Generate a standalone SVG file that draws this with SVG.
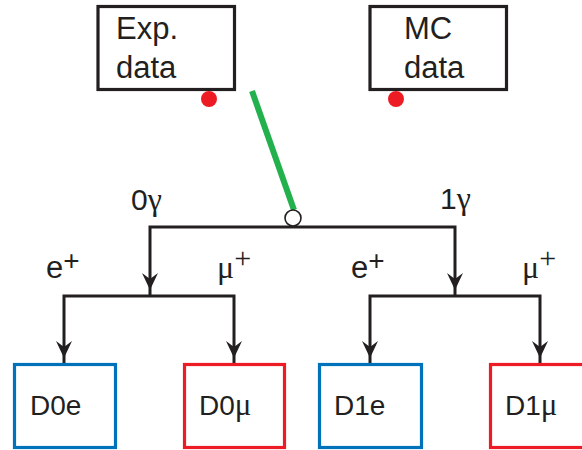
<svg xmlns="http://www.w3.org/2000/svg" xmlns:xlink="http://www.w3.org/1999/xlink" width="582" height="450" viewBox="0 0 582 450">
<style>
.t{font-family:"Liberation Sans",Arial,sans-serif;fill:#231f20;}
.g{font-family:"Liberation Serif","Times New Roman",serif;}
.box{fill:#fff;stroke-width:3.2;}
.blk{stroke:#231f20;}
.blu{stroke:#0072bc;}
.red{stroke:#ed1c24;}
.wire{fill:none;stroke:#231f20;stroke-width:3;}
</style>
<defs>
<path id="ah" d="M0,0 L-8,-17 L0,-11 L8,-17 Z" fill="#231f20"/>
</defs>
<rect width="582" height="450" fill="#fff"/>
<g id="exp">
<rect class="box blk" x="98" y="6.5" width="136.5" height="83"/>
<text class="t" x="116" y="39" font-size="31">Exp.</text>
<text class="t" x="116" y="78" font-size="31">data</text>
<circle cx="209" cy="99" r="8" fill="#ed1c24"/>
</g>
<g id="mc">
<rect class="box blk" x="370" y="6.5" width="136.5" height="83"/>
<text class="t" x="404" y="39" font-size="31">MC</text>
<text class="t" x="404" y="78" font-size="31">data</text>
<circle cx="396" cy="99" r="8" fill="#ed1c24"/>
</g>
<g id="connectors">
<line x1="252" y1="91" x2="294" y2="210" stroke="#22b14c" stroke-width="6"/>
<path class="wire" d="M150,296 V227 H455 V296"/>
<path class="wire" d="M64,363 V296 H234 V363"/>
<path class="wire" d="M370,363 V296 H540 V363"/>
<use xlink:href="#ah" x="150" y="290"/>
<use xlink:href="#ah" x="455" y="290"/>
<use xlink:href="#ah" x="64" y="358"/>
<use xlink:href="#ah" x="234" y="358"/>
<use xlink:href="#ah" x="370" y="358"/>
<use xlink:href="#ah" x="540" y="358"/>
<circle cx="293" cy="218" r="8" fill="#fff" stroke="#231f20" stroke-width="1.6"/>
</g>
<g id="labels">
<text class="t" x="131" y="210" font-size="30">0<tspan class="g" font-size="32">γ</tspan></text>
<text class="t" x="440" y="209" font-size="30">1<tspan class="g" font-size="32">γ</tspan></text>
<text class="t" x="46" y="278" font-size="31">e<tspan font-size="28" dy="-8">+</tspan></text>
<text class="t g" x="217" y="278" font-size="32">μ<tspan font-size="30" dy="-10">+</tspan></text>
<text class="t" x="351" y="278" font-size="31">e<tspan font-size="28" dy="-8">+</tspan></text>
<text class="t g" x="522" y="278" font-size="32">μ<tspan font-size="30" dy="-10">+</tspan></text>
</g>
<g id="d0e">
<rect class="box blu" x="14.5" y="364.5" width="101" height="83"/>
<text class="t" x="30" y="415" font-size="28">D0e</text>
</g>
<g id="d0mu">
<rect class="box red" x="184.5" y="364.5" width="100" height="83"/>
<text class="t" x="199" y="415" font-size="28">D0<tspan class="g" font-size="31">μ</tspan></text>
</g>
<g id="d1e">
<rect class="box blu" x="319.5" y="364.5" width="102" height="83"/>
<text class="t" x="334" y="415" font-size="28">D1e</text>
</g>
<g id="d1mu">
<rect class="box red" x="490.5" y="364.5" width="100" height="83"/>
<text class="t" x="505" y="415" font-size="28">D1<tspan class="g" font-size="31">μ</tspan></text>
</g>
</svg>
